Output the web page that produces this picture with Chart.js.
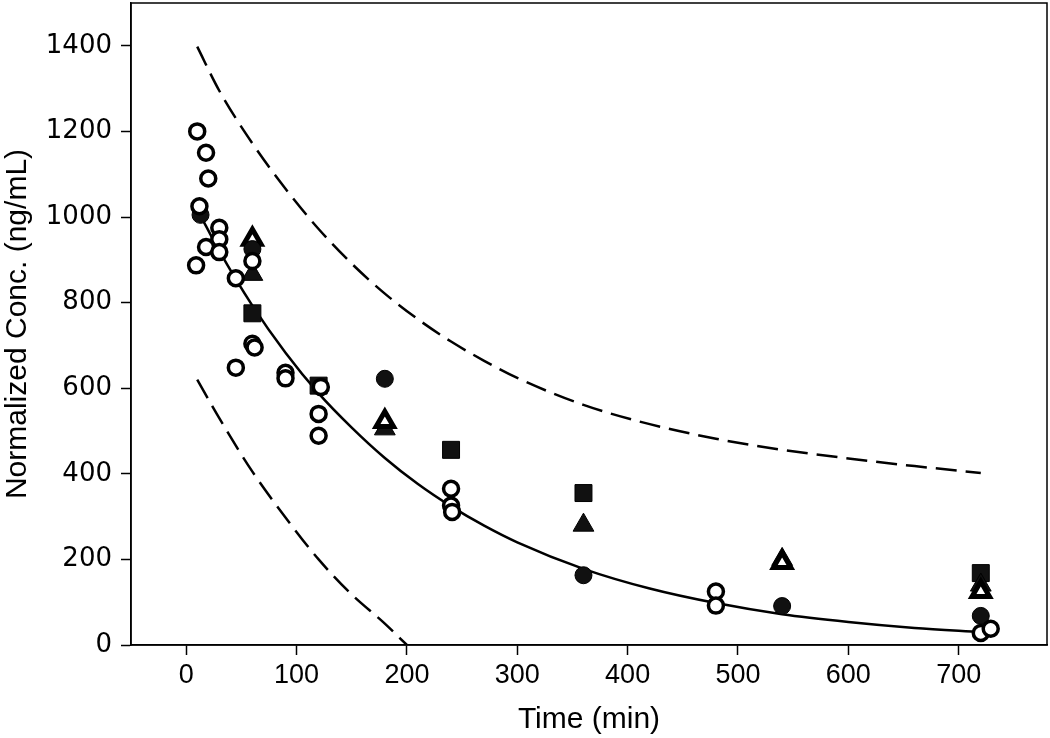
<!DOCTYPE html>
<html>
<head>
<meta charset="utf-8">
<script src="https://cdn.jsdelivr.net/npm/chart.js@4.4.1/dist/chart.umd.min.js"></script>
<style>
  html, body { margin: 0; padding: 0; background: #fff; }
</style>
</head>
<body>
<canvas id="my-chart" width="1050" height="738"></canvas>
<script>
// ========= values =========
const xTickValues = [0, 100, 200, 300, 400, 500, 600, 700]
const yTickValues = [0, 200, 400, 600, 800, 1000, 1200, 1400]

// open circles
const openCircleX = [10, 18, 20, 12, 30, 30, 18, 30, 9, 45, 60, 60, 62, 45, 90, 90, 122, 120, 120, 240, 240, 241, 480, 480, 720, 729]
const openCircleY = [1200, 1150, 1090, 1025, 975, 948, 930, 918, 887, 857, 897, 704, 695, 648, 636, 623, 603, 540, 489, 365, 326, 311, 125, 92, 28, 38]

// filled circles
const fillCircleX = [13, 60, 180, 360, 540, 720]
const fillCircleY = [1005, 925, 622, 163, 91, 68]

// filled squares
const squareX = [60, 120, 240, 360, 720]
const squareY = [775, 606, 456, 355, 168]

// filled triangles
const fillTriX = [60, 180, 360, 540, 720]
const fillTriY = [866, 505, 280, 200, 140]

// open triangles
const openTriX = [60, 180, 540, 720]
const openTriY = [948, 522, 193, 125]

// fitted curve and the two dashed bounds
const fitT = [12, 30, 60, 90, 120, 150, 180, 210, 240, 270, 300, 360, 420, 480, 540, 600, 660, 720]
const fitY = [1008, 921, 793, 683, 588, 508, 437, 376, 324, 279, 240, 178, 132, 98, 72, 54, 40, 30]
const upperT = [10, 30, 60, 90, 120, 150, 180, 210, 240, 270, 300, 360, 420, 480, 540, 600, 660, 720]
const upperY = [1398, 1295, 1172, 1066, 972, 891, 821, 761, 709, 664, 624, 561, 516, 482, 456, 436, 418, 402]
const lowerT = [10, 30, 60, 90, 120, 150, 180, 200]
const lowerY = [620, 530, 405, 298, 200, 118, 50, 0]

// pairs two arrays into {x, y} points
const pts = (xs, ys) => xs.map((x, i) => ({ x: x, y: ys[i] }))

// draws the box round the plot area
const frame = {
    id: 'frame',
    afterDatasetsDraw(chart) {
        const { ctx, chartArea: a } = chart
        ctx.save()
        ctx.strokeStyle = '#000'
        ctx.lineWidth = 1.5
        ctx.strokeRect(a.left, a.top, a.right - a.left, a.bottom - a.top)
        ctx.restore()
    }
}

const curve = (data, dash, order) => ({
    type: 'scatter',
    data: data,
    showLine: true,
    borderColor: '#000',
    borderWidth: 2.5,
    borderDash: dash,
    pointRadius: 0,
    cubicInterpolationMode: 'monotone',
    order: order
})

const marker = (data, style, radius, fill, width, order) => ({
    type: 'scatter',
    data: data,
    pointStyle: style,
    pointRadius: radius,
    pointHoverRadius: radius,
    backgroundColor: fill,
    borderColor: '#000',
    borderWidth: width,
    order: order
})

new Chart(document.getElementById('my-chart'), {
    type: 'scatter',
    data: {
        datasets: [
            curve(pts(upperT, upperY), [21, 9], 10),
            curve(pts(lowerT, lowerY), [21, 9], 9),
            curve(pts(fitT, fitY), [], 8),
            marker(pts(squareX, squareY), 'rect', 12, '#111', 1, 6),
            marker(pts(fillTriX, fillTriY), 'triangle', 12, '#111', 1, 5),
            marker(pts(openTriX, openTriY), 'triangle', 10, '#fff', 5, 4),
            marker(pts(fillCircleX, fillCircleY), 'circle', 8.5, '#111', 1, 3),
            marker(pts(openCircleX, openCircleY), 'circle', 7.5, '#fff', 3.5, 1)
        ]
    },
    options: {
        responsive: false,
        animation: false,
        devicePixelRatio: 1,
        layout: { autoPadding: false, padding: { top: 3, right: 3, left: 0, bottom: 0 } },
        plugins: { legend: { display: false }, tooltip: { enabled: false } },
        scales: {
            x: {
                type: 'linear',
                min: -50,
                max: 780,
                afterBuildTicks: (s) => { s.ticks = xTickValues.map(v => ({ value: v })) },
                afterFit: (s) => { s.height = 93; s.paddingLeft = 0; s.paddingRight = 0 },
                border: { display: true, color: '#000', width: 1.5 },
                grid: { display: true, drawOnChartArea: false, drawTicks: true, tickLength: 10, tickWidth: 1.5, tickColor: '#000' },
                ticks: { color: '#000', padding: 4, callback: (v) => String(v), font: { family: "'Liberation Sans Narrow', 'Liberation Sans'", size: 27 } },
                title: { display: true, text: 'Time (min)', color: '#000', padding: { top: 0, bottom: 0 }, font: { family: 'Liberation Sans', size: 30 } }
            },
            y: {
                type: 'linear',
                min: 0,
                max: 1500,
                afterBuildTicks: (s) => { s.ticks = yTickValues.map(v => ({ value: v })) },
                afterFit: (s) => { s.width = 131; s.paddingTop = 0; s.paddingBottom = 0 },
                border: { display: true, color: '#000', width: 1.5 },
                grid: { display: true, drawOnChartArea: false, drawTicks: true, tickLength: 10, tickWidth: 1.5, tickColor: '#000' },
                ticks: { color: '#000', padding: 9, callback: (v) => String(v), font: { family: 'DejaVu Sans', size: 26 } },
                title: { display: true, text: 'Normalized Conc. (ng/mL)', color: '#000', padding: { top: 0, bottom: 0 }, font: { family: 'Liberation Sans', size: 30 } }
            }
        }
    },
    plugins: [frame]
})
</script>
</body>
</html>
